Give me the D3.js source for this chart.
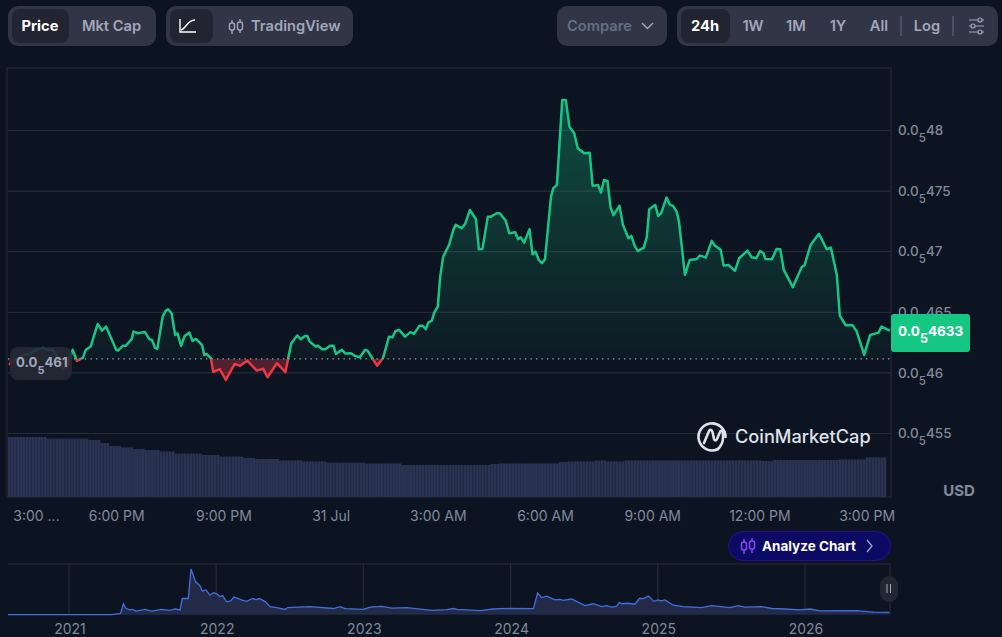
<!DOCTYPE html>
<html>
<head>
<meta charset="utf-8">
<script src="https://cdn.jsdelivr.net/npm/d3@7"></script>
<style>
  html, body { margin: 0; padding: 0; background: #0d1421; overflow: hidden; }
  svg { display: block; font-family: Inter, "Noto Sans", sans-serif; }
</style>
</head>
<body>
<svg id="chart" width="1002" height="637"></svg>
<script>
// minutes after 3:00 PM on 30 Jul, price in units of 1e-6 USD
const minutes = [0,10,25,35,45,57,65,74,82,91,97,102,107,114,124,129,137,149,156,163,180,183,191,196,206,209,217,228,236,240,245,249,258,263,267,273,279,283,289,295,303,308,314,324,328,332,339,343,354,364,379,388,400,416,427,434,450,464,474,484,490,497,501,505,515,518,526,531,539,545,549,559,565,574,581,589,598,602,609,618,628,638,644,649,655,665,674,680,689,695,700,704,710,714,720,724,729,739,746,750,760,766,774,784,789,795,804,809,819,824,834,840,850,855,859,865,874,879,884,890,895,900,910,914,920,929,935,941,949,955,966,975,980,989,994,999,1005,1010,1015,1025,1031,1040,1045,1051,1056,1066,1071,1075,1085,1090,1095,1104,1110,1115,1121,1125,1135,1143,1155,1160,1170,1180,1185,1195,1200,1208,1219,1226,1240,1247,1255,1261,1267,1270,1281,1289,1295,1301,1316,1331,1336,1346,1360,1373,1380,1390,1395,1405,1416,1423,1436,1446,1460,1465,1479];
const prices = [4.6062,4.6103,4.6144,4.6153,4.6186,4.6202,4.6186,4.6186,4.6120,4.6029,4.6045,4.6120,4.6186,4.6095,4.6120,4.6186,4.6213,4.6400,4.6345,4.6378,4.6186,4.6180,4.6219,4.6219,4.6274,4.6337,4.6323,4.6334,4.6274,4.6268,4.6205,4.6194,4.6460,4.6507,4.6521,4.6488,4.6309,4.6323,4.6219,4.6301,4.6328,4.6260,4.6276,4.6227,4.6144,4.6150,4.6117,4.6004,4.6026,4.5938,4.6070,4.6054,4.6097,4.6015,4.6029,4.5960,4.6076,4.6002,4.6241,4.6304,4.6274,4.6301,4.6301,4.6254,4.6213,4.6221,4.6191,4.6191,4.6219,4.6219,4.6153,4.6186,4.6155,4.6158,4.6136,4.6125,4.6186,4.6180,4.6125,4.6056,4.6117,4.6295,4.6290,4.6342,4.6351,4.6295,4.6332,4.6318,4.6384,4.6384,4.6356,4.6411,4.6427,4.6493,4.6543,4.6790,4.6955,4.7052,4.7176,4.7217,4.7190,4.7225,4.7341,4.7264,4.7016,4.7019,4.7285,4.7285,4.7313,4.7313,4.7252,4.7148,4.7157,4.7099,4.7115,4.7071,4.7181,4.6975,4.6997,4.6924,4.6901,4.6934,4.7448,4.7520,4.7547,4.8248,4.8248,4.8028,4.7973,4.7850,4.7808,4.7813,4.7539,4.7547,4.7483,4.7588,4.7580,4.7363,4.7299,4.7374,4.7217,4.7107,4.7126,4.7038,4.7002,4.7030,4.7120,4.7346,4.7382,4.7291,4.7313,4.7442,4.7382,4.7374,4.7327,4.7244,4.6804,4.6928,4.6936,4.6965,4.6947,4.7085,4.7048,4.7011,4.6881,4.6887,4.6837,4.6942,4.7005,4.6950,4.6942,4.7002,4.6983,4.6936,4.6934,4.7019,4.7016,4.6846,4.6703,4.6868,4.6887,4.7052,4.7143,4.7016,4.7030,4.6804,4.6469,4.6389,4.6392,4.6342,4.6144,4.6309,4.6328,4.6378,4.6345];
const baselinePrice = 4.6111;

// volume steps: level holds from each start minute until the next one
const volumeFrom = [0,64,131,153,170,190,207,228,254,279,321,354,393,413,455,494,531,598,656,808,824,925,939,984,1001,1034,1261,1281,1392,1437];
const volumeLevel = [30,29.2,28.5,27,25.5,24.8,24,23.5,22.8,21.7,21,20.2,19.5,19,18.3,17.8,17.2,16.8,16,16.5,16.8,17.5,17.8,18.2,17.8,18.3,18,18.5,18.8,19.8];

const yTicks = [4.55,4.6,4.65,4.7,4.75,4.8];
const yTickDigits = ['455','46','465','47','475','48'];
const xTickHours = [0,3,6,9,12,15,18,21,24];
const xTickLabels = ['3:00 ...','6:00 PM','9:00 PM','31 Jul','3:00 AM','6:00 AM','9:00 AM','12:00 PM','3:00 PM'];

// all-time navigator
const miniYears = [2020.589,2021.293,2021.354,2021.373,2021.391,2021.418,2021.436,2021.459,2021.520,2021.565,2021.633,2021.690,2021.723,2021.758,2021.773,2021.814,2021.832,2021.864,2021.893,2021.909,2021.934,2021.961,2021.984,2022.007,2022.029,2022.047,2022.074,2022.102,2022.124,2022.176,2022.210,2022.251,2022.274,2022.297,2022.339,2022.369,2022.414,2022.471,2022.487,2022.641,2022.799,2022.845,2022.879,2023.003,2023.049,2023.128,2023.196,2023.298,2023.468,2023.570,2023.615,2023.638,2023.796,2023.886,2023.931,2023.999,2024.158,2024.187,2024.214,2024.248,2024.305,2024.339,2024.361,2024.418,2024.508,2024.565,2024.622,2024.656,2024.690,2024.724,2024.742,2024.758,2024.803,2024.848,2024.878,2024.905,2024.939,2024.977,2025.007,2025.023,2025.052,2025.109,2025.176,2025.301,2025.369,2025.493,2025.550,2025.595,2025.709,2025.777,2025.867,2025.969,2026.037,2026.105,2026.354,2026.467,2026.576];
const miniPrices = [0,0,2.8,23,13,10,11,7.7,11,7.7,11,9,12,10,34,34,96,69,61,50,52,41,46,44,38,40,27,29,37,31,28,34,31.5,34,27,17,15,11,15,17,13,17,12.6,11,16,17.5,14,15,9,10.5,13,11,8.4,12,12.6,13,12.6,45.5,36,39,31,32,30,33,19,23,17,19,16,18,26,23,24,22,34,34,39,28,31,29,31,20,17,15,19,15,19,16,17,13,12,10,12,8,8.4,5.6,4.9];
const miniYearTicks = [2021,2022,2023,2024,2025,2026];

const svg = d3.select('#chart');
const GREEN = '#16c784';
const RED = '#ea3943';
const GRID = '#262a37';
const MUTED = '#808a9d';

const start = new Date(2026, 6, 30, 15, 0);
const toDate = m => new Date(start.getTime() + m * 60000);
const data = minutes.map((m, i) => ({ date: toDate(m), price: prices[i] }));

const x = d3.scaleTime().domain([start, toDate(1440)]).range([9, 866.6]);
const y = d3.scaleLinear().domain([4.55, 4.8]).range([433, 130]);
const vol = d3.scaleLinear().domain([0, 30]).range([497, 437]);
const volumeAt = d3.scaleThreshold().domain(volumeFrom.slice(1)).range(volumeLevel);

// ---- buttons along the top
function pill(px, py, w, h, r, fill) {
  return svg.append('rect').attr('x', px).attr('y', py).attr('width', w).attr('height', h)
    .attr('rx', r).attr('fill', fill);
}
function label(text, px, py, fill, weight, anchor = 'middle', size = 14.7) {
  return svg.append('text').attr('x', px).attr('y', py).attr('fill', fill)
    .attr('font-size', size).attr('font-weight', weight).attr('text-anchor', anchor).text(text);
}
const BTN = '#323546';
const ACTIVE = '#222531';
const BTN_TEXT = '#a1a7bb';

pill(8, 6, 148, 40, 10, BTN);
pill(12, 9, 57, 34, 8, ACTIVE);
label('Price', 40, 31, '#fff', 700);
label('Mkt Cap', 111.5, 31, BTN_TEXT, 600);

pill(166, 6, 187, 40, 10, BTN);
pill(170, 9, 43, 34, 8, ACTIVE);
svg.append('path').attr('d', 'M180 19V32H196M181 30C186 29 187 20 195 20').attr('fill', 'none')
  .attr('stroke', '#fff').attr('stroke-width', 1.4);
const candles = svg.append('g').attr('fill', 'none').attr('stroke', BTN_TEXT).attr('stroke-width', 1.4);
candles.append('path').attr('d', 'M232 20V34M240 19V33');
candles.append('rect').attr('x', 229.5).attr('y', 23).attr('width', 5).attr('height', 7).attr('rx', 2).attr('fill', BTN);
candles.append('rect').attr('x', 237.5).attr('y', 22).attr('width', 5).attr('height', 8).attr('rx', 2).attr('fill', BTN);
label('TradingView', 251, 31, BTN_TEXT, 600, 'start');

pill(557, 6, 110, 40, 10, BTN);
label('Compare', 567, 31, '#616e85', 600, 'start');
svg.append('path').attr('d', 'M642 23L647.5 28.5L653 23').attr('fill', 'none').attr('stroke', BTN_TEXT).attr('stroke-width', 1.4);

pill(677, 6, 321, 40, 10, BTN);
pill(681, 9, 49, 34, 8, ACTIVE);
label('24h', 705, 31, '#fff', 700);
label('1W', 753, 31, BTN_TEXT, 600);
label('1M', 796, 31, BTN_TEXT, 600);
label('1Y', 838, 31, BTN_TEXT, 600);
label('All', 879, 31, BTN_TEXT, 600);
label('Log', 927, 31, BTN_TEXT, 600);
svg.append('path').attr('d', 'M901 16V36M953 16V36').attr('stroke', '#616e85').attr('stroke-width', 1);
const tune = svg.append('g').attr('stroke', BTN_TEXT).attr('stroke-width', 1.2).attr('fill', BTN);
tune.append('path').attr('d', 'M969 20H984M969 26H984M969 32H984');
tune.append('circle').attr('cx', 980).attr('cy', 20).attr('r', 2);
tune.append('circle').attr('cx', 973).attr('cy', 26).attr('r', 2);
tune.append('circle').attr('cx', 980).attr('cy', 32).attr('r', 2);

// ---- frame, price axis and grid
svg.append('path').attr('d', 'M7 497V68H891V497H7').attr('fill', 'none').attr('stroke', GRID).attr('stroke-width', 1.2);

const yAxis = svg.append('g').attr('transform', 'translate(891,0)')
  .call(d3.axisRight(y).tickValues(yTicks).tickSize(0).tickPadding(7).tickFormat(''));
yAxis.select('.domain').remove();
yAxis.selectAll('.tick').append('line')
  .attr('x1', -883).attr('x2', 0).attr('stroke', GRID).attr('stroke-width', 1.2);

function subscriptPrice(sel, digits, subSize) {
  sel.selectAll('tspan').remove();
  sel.append('tspan').text('0.0');
  sel.append('tspan').attr('dy', 7).attr('font-size', subSize).text('5');
  sel.append('tspan').attr('dy', -7).text(digits);
}
yAxis.selectAll('.tick text').each(function (d, i) {
  const t = d3.select(this).attr('x', 7).attr('fill', MUTED).attr('font-size', 13.5)
    .attr('font-family', 'Inter').attr('font-weight', 500).attr('dy', '0.35em');
  subscriptPrice(t, yTickDigits[i], 11.5);
});

// ---- volume bars
const barTimes = d3.range(0, 1475, 5);
const barWidth = x(toDate(5)) - x(toDate(0));
svg.append('g').selectAll('rect').data(barTimes).enter().append('rect')
  .attr('x', d => x(toDate(d)) - 1)
  .attr('y', d => vol(volumeAt(d)))
  .attr('width', barWidth - 0.12)
  .attr('height', d => vol(0) - vol(volumeAt(d)))
  .attr('fill', '#2a3352');

// ---- price line, green above the open and red below
const defs = svg.append('defs');
const baseY = y(baselinePrice);
defs.append('clipPath').attr('id', 'above').append('rect')
  .attr('x', 0).attr('y', 68).attr('width', 891).attr('height', baseY - 68);
defs.append('clipPath').attr('id', 'below').append('rect')
  .attr('x', 0).attr('y', baseY).attr('width', 891).attr('height', 497 - baseY);

const gradUp = defs.append('linearGradient').attr('id', 'gradUp').attr('gradientUnits', 'userSpaceOnUse')
  .attr('x1', 0).attr('x2', 0).attr('y1', y(d3.max(prices))).attr('y2', baseY);
gradUp.append('stop').attr('offset', 0).attr('stop-color', GREEN).attr('stop-opacity', 0.32);
gradUp.append('stop').attr('offset', 1).attr('stop-color', GREEN).attr('stop-opacity', 0.03);

const area = d3.area().x(d => x(d.date)).y0(baseY).y1(d => y(d.price));
const line = d3.line().x(d => x(d.date)).y(d => y(d.price));

svg.append('path').datum(data).attr('d', area).attr('fill', 'url(#gradUp)').attr('clip-path', 'url(#above)');
svg.append('path').datum(data).attr('d', area).attr('fill', RED).attr('fill-opacity', 0.32).attr('clip-path', 'url(#below)');

svg.append('line').attr('x1', 8).attr('x2', 891).attr('y1', baseY).attr('y2', baseY)
  .attr('stroke', '#a1a7bb').attr('stroke-width', 1.2).attr('stroke-dasharray', '1.3 4.2');

[['above', GREEN], ['below', RED]].forEach(([clip, color]) => {
  svg.append('path').datum(data).attr('d', line).attr('fill', 'none')
    .attr('stroke', color).attr('stroke-width', 2.5)
    .attr('stroke-linejoin', 'round').attr('clip-path', `url(#${clip})`);
});

// ---- time axis
const xAxis = svg.append('g').attr('transform', 'translate(0,497)')
  .call(d3.axisBottom(x).tickValues(xTickHours.map(h => toDate(h * 60))).tickSize(0).tickPadding(14)
    .tickFormat((d, i) => xTickLabels[i]));
xAxis.select('.domain').remove();
xAxis.selectAll('text').attr('fill', MUTED).attr('font-size', 14).attr('font-family', 'Inter').attr('font-weight', 400)
  .filter((d, i) => i === 0).attr('x', 27);

label('USD', 959, 496, MUTED, 700, 'middle', 15);

// ---- tags on top of the line
pill(10, 347, 62, 33, 8, 'rgba(38,41,53,0.9)');
const openTag = svg.append('text').attr('x', 16).attr('y', 367).attr('fill', '#a1a7bb')
  .attr('font-size', 13.2).attr('font-weight', 700);
subscriptPrice(openTag, '461', 11);

pill(891, 314, 79, 38, 3, GREEN);
const lastTag = svg.append('text').attr('x', 898).attr('y', 336).attr('fill', '#fff')
  .attr('font-size', 13.5).attr('font-weight', 700);
subscriptPrice(lastTag, '4633', 12.5);

// ---- watermark
const logo = svg.append('g').attr('fill', 'none').attr('stroke', '#dfe2e9').attr('stroke-width', 2.6).attr('stroke-linecap', 'round');
logo.append('path').attr('d', 'M718 449A13.5 13.5 0 1 1 725.5 437');
logo.append('path').attr('d', 'M704 443L709 431C710 429 712 430 712.5 432L714 439C714.5 441 716 441 717 439L720 432C721 430 723 430 723 433V438C723 442 721 446 718 449');
label('CoinMarketCap', 735, 443, '#dfe2e9', 500, 'start', 18.2);

// ---- analyze chart button
svg.append('rect').attr('x', 728.5).attr('y', 531.5).attr('width', 162).attr('height', 29).attr('rx', 14.5)
  .attr('fill', '#0b0b66').attr('stroke', '#2b1180');
const analyze = svg.append('g').attr('fill', 'none').attr('stroke', '#8b45f5').attr('stroke-width', 1.5);
analyze.append('path').attr('d', 'M744 539V554M752 538V553');
analyze.append('rect').attr('x', 741.5).attr('y', 542).attr('width', 5).attr('height', 8).attr('rx', 2).attr('fill', '#0b0b66');
analyze.append('rect').attr('x', 749.5).attr('y', 541).attr('width', 5).attr('height', 8).attr('rx', 2).attr('fill', '#0b0b66');
label('Analyze Chart', 762, 551, '#fff', 700, 'start', 13.5);
svg.append('path').attr('d', 'M867 540L872 546L867 552').attr('fill', 'none').attr('stroke', BTN_TEXT).attr('stroke-width', 1.3);

// ---- navigator
const mx = d3.scaleLinear().domain([2021, 2026]).range([68.5, 804.5]);
const my = d3.scaleLinear().domain([0, 96]).range([614.7, 569]);
const miniData = miniYears.map((yr, i) => ({ yr, price: miniPrices[i] }));

svg.append('path').attr('d', 'M8 564H890V615').attr('fill', 'none').attr('stroke', GRID).attr('stroke-width', 1.2);

const miniAxis = svg.append('g').attr('transform', 'translate(0,564)')
  .call(d3.axisBottom(mx).tickValues(miniYearTicks).tickSize(51).tickPadding(9).tickFormat(d3.format('d')));
miniAxis.select('.domain').remove();
miniAxis.selectAll('line').attr('stroke', GRID).attr('stroke-width', 1.2);
miniAxis.selectAll('text').attr('fill', MUTED).attr('font-size', 14).attr('font-family', 'Inter').attr('dx', 1);

svg.append('path').datum(miniData)
  .attr('d', d3.area().x(d => mx(d.yr)).y0(my(0)).y1(d => my(d.price)))
  .attr('fill', '#232a47');
svg.append('path').datum(miniData)
  .attr('d', d3.line().x(d => mx(d.yr)).y(d => my(d.price)))
  .attr('fill', 'none').attr('stroke', '#3f6fe0').attr('stroke-width', 1.3);

pill(880, 576, 18, 26, 9, '#232733');
svg.append('path').attr('d', 'M887 584V593M890.5 584V593').attr('stroke', '#a1a7bb').attr('stroke-width', 1);
</script>
</body>
</html>
